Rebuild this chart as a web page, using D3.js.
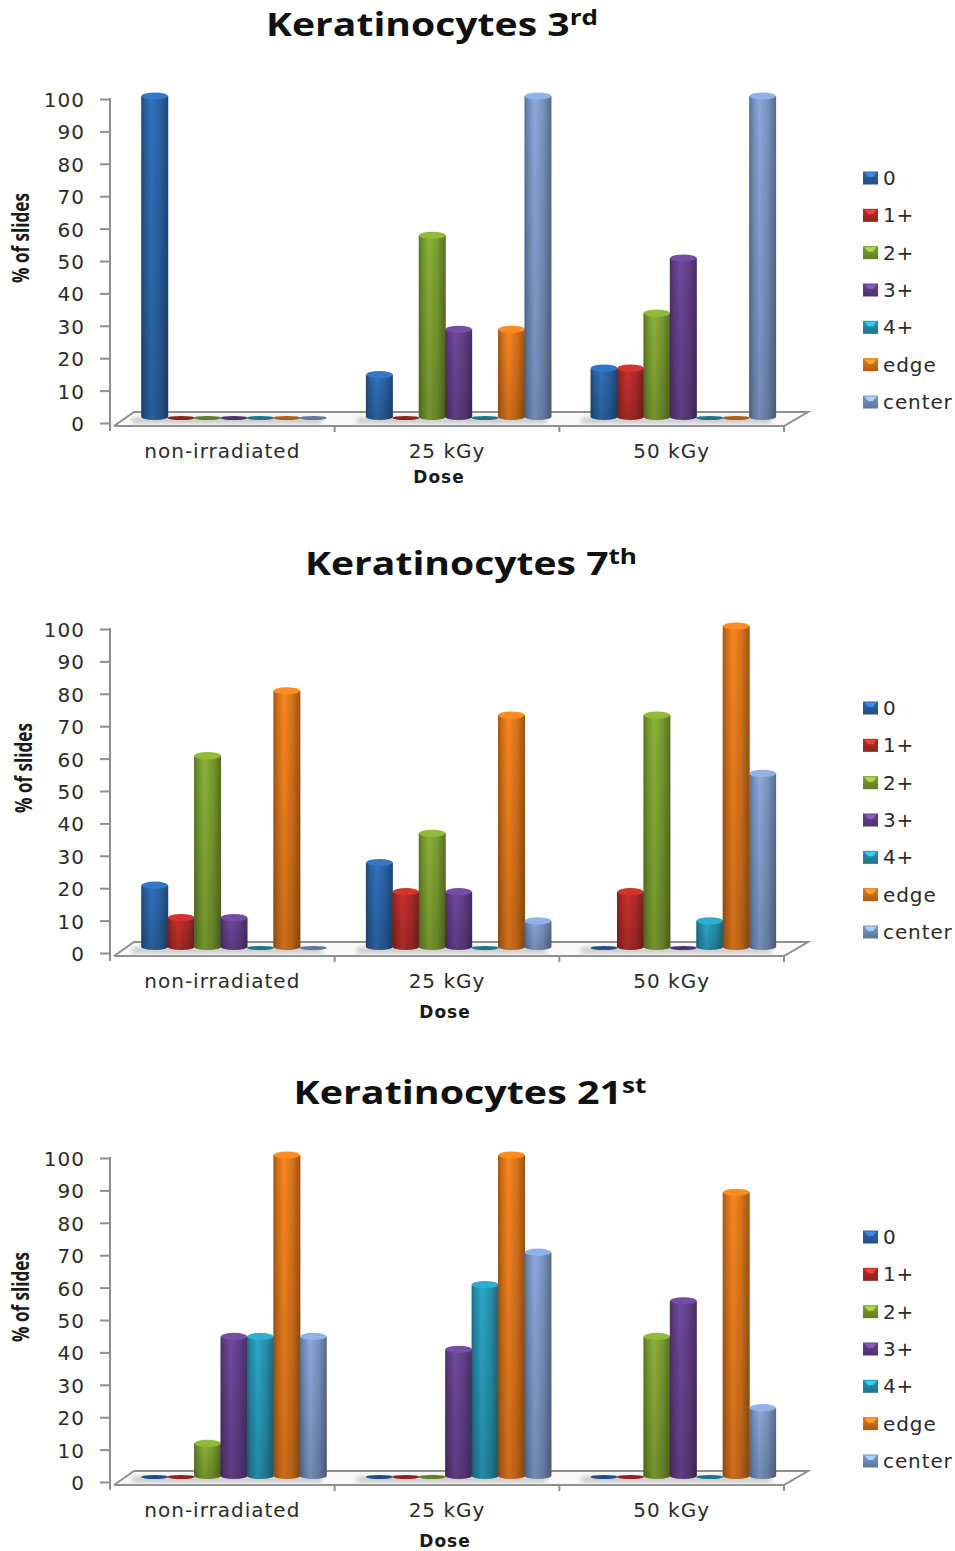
<!DOCTYPE html>
<html>
<head>
<meta charset="utf-8">
<script src="https://cdn.jsdelivr.net/npm/d3@7"></script>
<style>
html,body{margin:0;padding:0;background:#fff}
svg{display:block}
</style>
</head>
<body>
<svg id="fig" width="955" height="1551"></svg>
<script>
// Share of slides per staining grade, one array per dose group and passage
const doses = ["non-irradiated", "25 kGy", "50 kGy"];
const grades = ["0", "1+", "2+", "3+", "4+", "edge", "center"];
const yTicks = [0, 10, 20, 30, 40, 50, 60, 70, 80, 90, 100];

const third = [
  [100, 0, 0, 0, 0, 0, 0],
  [14, 0, 57, 28, 0, 28, 100],
  [16, 16, 33, 50, 0, 0, 100]
];
const seventh = [
  [20, 10, 60, 10, 0, 80, 0],
  [27, 18, 36, 18, 0, 72.5, 9],
  [0, 18, 72.5, 0, 9, 100, 54.5]
];
const twentyFirst = [
  [0, 0, 11, 44, 44, 100, 44],
  [0, 0, 0, 40, 60, 100, 70],
  [0, 0, 44, 55, 0, 88.5, 22]
];

const gradeColors = ["#2f6db5", "#c0302c", "#86ab35", "#6c4696", "#2aa0c0", "#f0801e", "#85a3d4"];

const panels = [
  {ord: "3", sup: "rd", values: third, top: 99, titleX: 432, titleY: 36, titleW: 332, yTitleX: 21, doseX: 439, doseY: 483},
  {ord: "7", sup: "th", values: seventh, top: 629, titleX: 471, titleY: 575, titleW: 332, yTitleX: 24, doseX: 445, doseY: 1018},
  {ord: "21", sup: "st", values: twentyFirst, top: 1158, titleX: 470, titleY: 1104, titleW: 353, yTitleX: 21, doseX: 445, doseY: 1547}
];

const svg = d3.select("#fig");
const defs = svg.append("defs");
const axisGray = "#8f8f8f";
const labelFont = "'DejaVu Sans', sans-serif";
const titleFont = "'Open Sans', 'DejaVu Sans', sans-serif";

// Cylinder shading: dark rims with a highlight left of centre
gradeColors.forEach((c, i) => {
  const base = d3.color(c);
  const g = defs.append("linearGradient").attr("id", "cyl" + i).attr("x1", 0).attr("x2", 1).attr("y1", 0).attr("y2", 0);
  [[0, base.darker(1.1)], [0.14, base.darker(0.45)], [0.38, base.brighter(0.12)], [0.7, base.darker(0.3)], [1, base.darker(1.2)]]
    .forEach(([o, col]) => g.append("stop").attr("offset", o).attr("stop-color", col));
  const s = defs.append("linearGradient").attr("id", "swatch" + i).attr("x1", 0).attr("x2", 0).attr("y1", 0).attr("y2", 1);
  [[0, base.darker(0.2)], [1, base.darker(0.9)]]
    .forEach(([o, col]) => s.append("stop").attr("offset", o).attr("stop-color", col));
});
const fade = defs.append("linearGradient").attr("id", "fade").attr("x1", 0).attr("x2", 0).attr("y1", 0).attr("y2", 1);
fade.append("stop").attr("offset", 0).attr("stop-color", "#000").attr("stop-opacity", 0);
fade.append("stop").attr("offset", 1).attr("stop-color", "#000").attr("stop-opacity", 0.18);
defs.append("filter").attr("id", "soft").attr("x", "-10%").attr("y", "-100%").attr("width", "120%").attr("height", "300%")
  .append("feGaussianBlur").attr("stdDeviation", 2.5);

const axisLeftX = 110, axisRightX = 784, axisSpan = 324;
const barHalf = 13.5, capRy = 3.6;

panels.forEach(p => {
  const g = svg.append("g");
  const y = d3.scaleLinear().domain([0, 100]).range([p.top + axisSpan, p.top]);
  const x0 = d3.scaleBand().domain(doses).range([axisLeftX, axisRightX]);
  const x1 = d3.scaleBand().domain(grades).range([31.5, 216.5]);
  const floorFront = y(0) + 3, floorBack = y(0) - 11, depth = 24;

  // Title with superscript ordinal, widened to the panel's title span
  const title = g.append("text").attr("x", p.titleX).attr("y", p.titleY)
    .attr("text-anchor", "middle").attr("font-family", titleFont)
    .attr("font-weight", 700).attr("font-size", 33).attr("fill", "#111")
    .attr("textLength", p.titleW).attr("lengthAdjust", "spacingAndGlyphs");
  title.append("tspan").text("Keratinocytes " + p.ord);
  title.append("tspan").attr("dy", -11).attr("font-size", 22).text(p.sup);

  // Floor of the plot
  g.append("path")
    .attr("d", d3.line()([[axisLeftX + 4, floorFront], [axisRightX, floorFront], [axisRightX + depth, floorBack], [axisLeftX + depth, floorBack], [axisLeftX + 4, floorFront]]))
    .attr("fill", "#fafafa").attr("stroke", axisGray).attr("stroke-width", 2);
  g.append("g").selectAll("rect").data(doses).join("rect")
    .attr("x", d => x0(d) + 22).attr("width", 190)
    .attr("y", floorFront - 8).attr("height", 5)
    .attr("fill", "#bdbdbd").attr("filter", "url(#soft)");

  // Value axis
  const yAxis = g.append("g").attr("transform", `translate(${axisLeftX},1)`)
    .call(d3.axisLeft(y).tickValues(yTicks).tickSize(10).tickPadding(15).tickSizeOuter(0));
  yAxis.select(".domain").remove();
  yAxis.selectAll("line").attr("y1", -1).attr("y2", -1).attr("stroke", axisGray).attr("stroke-width", 2);
  yAxis.selectAll("text").attr("font-family", labelFont).attr("font-size", 20).attr("letter-spacing", 1).attr("fill", "#2b2b2b");
  g.append("line").attr("x1", axisLeftX).attr("x2", axisLeftX).attr("y1", y(100) - 1).attr("y2", y(0) + 8)
    .attr("stroke", axisGray).attr("stroke-width", 2);

  // Dose axis: labels centred on the band, ticks on the band edges
  const xAxis = g.append("g").attr("transform", `translate(0,${floorFront})`)
    .call(d3.axisBottom(x0).tickSize(0).tickPadding(18));
  xAxis.select(".domain").remove();
  xAxis.selectAll("text").attr("font-family", labelFont).attr("font-size", 20).attr("letter-spacing", 1).attr("fill", "#2b2b2b");
  g.append("g").selectAll("line").data(doses).join("line")
    .attr("x1", d => x0(d) + x0.bandwidth()).attr("x2", d => x0(d) + x0.bandwidth())
    .attr("y1", floorFront).attr("y2", floorFront + 6)
    .attr("stroke", axisGray).attr("stroke-width", 2);

  // Axis titles
  g.append("text").attr("x", p.doseX).attr("y", p.doseY).attr("text-anchor", "middle")
    .attr("font-family", labelFont).attr("font-weight", 700).attr("font-size", 17).attr("letter-spacing", 1).attr("fill", "#1a1a1a").text("Dose");
  g.append("text").attr("transform", `translate(${p.yTitleX + 8},${p.top + 139}) rotate(-90)`)
    .attr("text-anchor", "middle").attr("font-family", titleFont)
    .attr("font-weight", 700).attr("font-size", 24).attr("fill", "#1a1a1a")
    .attr("textLength", 90).attr("lengthAdjust", "spacingAndGlyphs").text("% of slides");

  // Cylinders, drawn in grade order so later ones overlap earlier ones
  doses.forEach((dose, di) => {
    const bars = g.append("g");
    grades.forEach((grade, si) => {
      const v = p.values[di][si];
      const cx = x0(dose) + x1(grade) + x1.bandwidth() / 2;
      const yBase = y(0) - 6.5, yTop = y(v) - 3;
      if (v === 0) {
        bars.append("ellipse").attr("cx", cx).attr("cy", y(0) - 5).attr("rx", barHalf).attr("ry", 2)
          .attr("fill", d3.color(gradeColors[si]).darker(0.9));
        return;
      }
      const body = `M${cx - barHalf},${yTop}L${cx - barHalf},${yBase}A${barHalf},${capRy} 0 0 0 ${cx + barHalf},${yBase}L${cx + barHalf},${yTop}Z`;
      bars.append("path").attr("d", body).attr("fill", `url(#cyl${si})`);
      bars.append("path").attr("d", body).attr("fill", "url(#fade)");
      bars.append("ellipse").attr("cx", cx).attr("cy", yTop).attr("rx", barHalf - 0.4).attr("ry", capRy)
        .attr("fill", d3.color(gradeColors[si]).brighter(0.25));
    });
  });

  // Legend
  const legendY = d3.scalePoint().domain(grades).range([p.top + 79, p.top + 303]);
  const legend = g.append("g").selectAll("g").data(grades).join("g")
    .attr("transform", d => `translate(863,${legendY(d)})`);
  legend.append("rect").attr("x", 0).attr("y", -6.5).attr("width", 15).attr("height", 13)
    .attr("fill", (d, i) => `url(#swatch${i})`);
  legend.append("path").attr("d", d3.line()([[1.5, -5.5], [13.5, -5.5], [10, -1], [5, -1], [1.5, -5.5]]))
    .attr("fill", (d, i) => d3.color(gradeColors[i]).brighter(0.7));
  legend.append("text").attr("x", 20).attr("y", 0).attr("dy", "0.35em")
    .attr("font-family", labelFont).attr("font-size", 20).attr("letter-spacing", 0.9).attr("fill", "#2b2b2b").text(d => d);
});
</script>
</body>
</html>
